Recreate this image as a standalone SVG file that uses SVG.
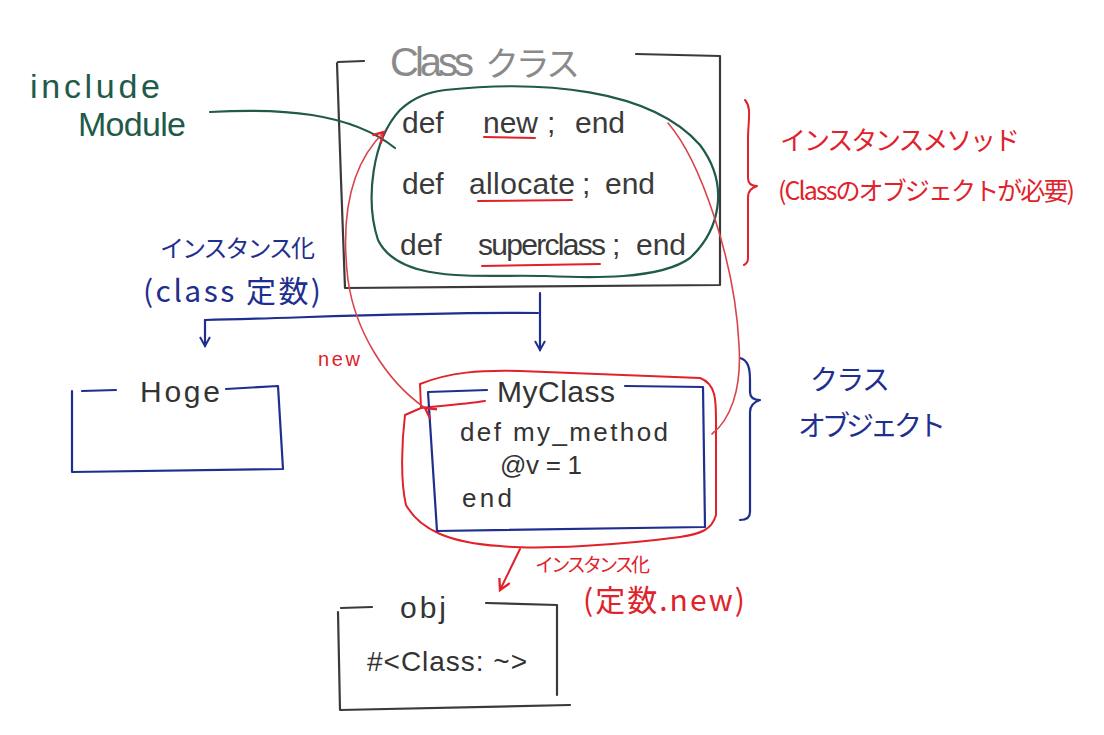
<svg xmlns="http://www.w3.org/2000/svg" width="1104" height="735" viewBox="0 0 1104 735">
<style>
.bg{fill:#ffffff}
.ink{fill:none;stroke-linecap:round;stroke-linejoin:round}
.dark{stroke:#3a3a3a;stroke-width:2.2}
.blue{stroke:#1f2f8f;stroke-width:2.2}
.red{stroke:#e0222b;stroke-width:2}
.redthin{stroke:#d8444a;stroke-width:1.6}
.green{stroke:#1f5a4a;stroke-width:2.2}
.t{font-family:"Liberation Sans","Noto Sans CJK JP",sans-serif}
.jp{font-family:"Noto Sans CJK JP","Noto Sans",sans-serif}
.code{fill:#3a3a3a;font-size:30px}
.tred{fill:#e0222b}
.tblue{fill:#1f2f8f}
.tgreen{fill:#1f5a4a}
</style>
<defs>
<marker id="arrB" viewBox="0 0 12 12" refX="10" refY="6" markerWidth="12" markerHeight="12" markerUnits="userSpaceOnUse" orient="auto">
<path d="M1,1 L10,6 L1,11" fill="none" stroke="#1f2f8f" stroke-width="2"/>
</marker>
<marker id="arrR" viewBox="0 0 12 12" refX="10" refY="6" markerWidth="14" markerHeight="14" markerUnits="userSpaceOnUse" orient="auto">
<path d="M1,1 L10,6 L1,11" fill="none" stroke="#e0222b" stroke-width="2"/>
</marker>
</defs>
<rect class="bg" x="0" y="0" width="1104" height="735"/>

<g id="class-node">
<path class="ink dark" d="M338,62 L364,61 M337,63 L341,180 L345,288 L720,285 L720,56 L636,54"/>
<text class="t" x="390" y="76" font-size="40" fill="#8a8a8a" textLength="84">Class</text>
<text class="jp" x="485" y="76" font-size="34" fill="#8a8a8a" textLength="95">クラス</text>
<text class="t code" x="402" y="133">def</text>
<text class="t code" x="483" y="133">new</text>
<text class="t code" x="547" y="133">;</text>
<text class="t code" x="575" y="133">end</text>
<text class="t code" x="402" y="194">def</text>
<text class="t code" x="469" y="194" textLength="106">allocate</text>
<text class="t code" x="582" y="194">;</text>
<text class="t code" x="605" y="194">end</text>
<text class="t code" x="400" y="255">def</text>
<text class="t code" x="478" y="255" textLength="128">superclass</text>
<text class="t code" x="612" y="255">;</text>
<text class="t code" x="636" y="255">end</text>
<path class="ink red" d="M484,137 L535,138 M478,201 L572,200 M482,266 L600,264"/>
</g>

<g id="module-loop">
<path class="ink green" d="M445,90 C540,80 650,88 700,145 C730,185 720,230 690,258 C660,280 590,278 545,276 C480,274 400,285 378,240 C365,200 372,140 400,110 C415,96 430,92 445,90 Z"/>
</g>

<g id="include-module">
<text class="t tgreen" x="30" y="98" font-size="34" textLength="130">include</text>
<text class="t tgreen" x="78" y="136" font-size="34" textLength="108">Module</text>
</g>

<g id="instance-methods-label">
<path class="ink red" d="M745,100 C752,108 748,120 748,140 L748,178 C748,184 752,186 757,186 C752,188 748,190 748,198 L748,258 C748,262 746,264 744,265"/>
<text class="jp tred" x="780" y="150" font-size="26" textLength="240">インスタンスメソッド</text>
<text class="jp tred" x="778" y="200" font-size="25" textLength="297">(Classのオブジェクトが必要)</text>
</g>

<g id="instantiate-label">
<text class="jp tblue" x="160" y="257" font-size="24" textLength="155">インスタンス化</text>
<text class="jp tblue" x="143" y="302" font-size="30" textLength="178">(class 定数)</text>
</g>

<g id="hoge">
<path class="ink blue" d="M82,391 L116,390 M72,391 L72,472 L283,469 L278,386 L226,389"/>
<text class="t" x="140" y="402" font-size="30" fill="#333" textLength="80">Hoge</text>
</g>

<g id="myclass">
<path class="ink red" d="M485,401 C465,404 440,406 421,408 L420,384 C450,372 480,370 520,371 L700,378 C716,384 716,400 716,420 L716,515 C712,530 700,534 680,537 C620,545 540,550 500,546 C450,543 420,530 406,505 C400,480 402,440 405,415 L421,408"/>
<path class="ink blue" d="M428,392 L487,390 M625,386 L703,387 L705,527 L437,531 L428,392"/>
<text class="t" x="497" y="402" font-size="30" fill="#333" textLength="118">MyClass</text>
<text class="t" x="460" y="441" font-size="26" fill="#333" textLength="208">def my_method</text>
<text class="t" x="500" y="474" font-size="26" fill="#333" textLength="82">@v = 1</text>
<text class="t" x="462" y="507" font-size="26" fill="#333" textLength="50">end</text>
</g>

<g id="class-object-label">
<path class="ink blue" d="M740,358 C748,360 750,368 750,380 L750,392 C750,398 755,400 760,400 C754,402 750,405 750,412 L750,512 C750,518 746,520 740,520"/>
<text class="jp tblue" x="810" y="390" font-size="28" textLength="80">クラス</text>
<text class="jp tblue" x="798" y="436" font-size="28" textLength="148">オブジェクト</text>
</g>

<g id="obj">
<path class="ink dark" d="M341,608 L372,607 M338,612 L340,710 L570,705 M557,695 L557,605 L486,603"/>
<text class="t" x="400" y="618" font-size="30" fill="#333" textLength="46">obj</text>
<text class="t" x="367" y="671" font-size="28" fill="#333" textLength="160">#&lt;Class: ~&gt;</text>
</g>

<g id="connectors">
<path class="ink blue" d="M540,293 L540,350" marker-end="url(#arrB)"/>
<path class="ink blue" d="M205,320 C300,318 420,312 538,313"/>
<path class="ink blue" d="M205,320 L205,346" marker-end="url(#arrB)"/>
<path class="ink green" d="M210,112 C280,108 350,112 395,148"/>
<path class="ink redthin" d="M425,408 C385,380 355,330 348,280 C342,230 345,170 384,132" marker-start="url(#arrR)" marker-end="url(#arrR)"/>
<path class="ink redthin" d="M668,123 C700,160 735,260 739,345 C742,390 730,420 712,434"/>
<path class="ink red" d="M520,549 L500,590" marker-end="url(#arrR)"/>
<text class="t tred" x="318" y="366" font-size="20" textLength="42">new</text>
<text class="jp tred" x="535" y="572" font-size="19" textLength="115">インスタンス化</text>
<text class="jp tred" x="583" y="611" font-size="30" textLength="162">(定数.new)</text>
</g>
</svg>
